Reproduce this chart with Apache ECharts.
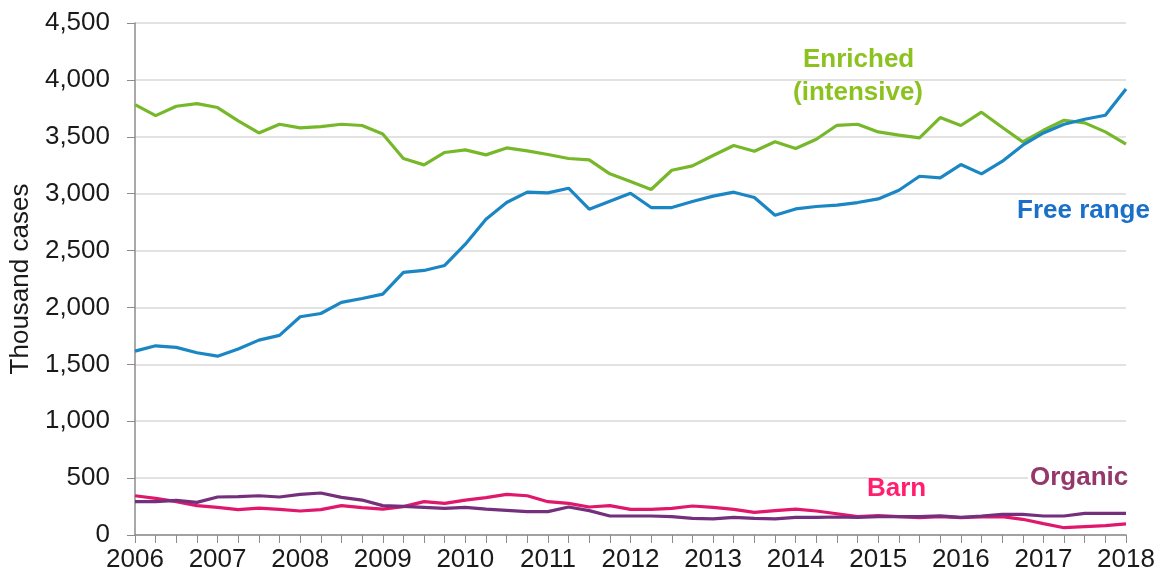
<!DOCTYPE html>
<html>
<head>
<meta charset="utf-8">
<script src="https://cdn.jsdelivr.net/npm/echarts@6/dist/echarts.min.js"></script>
<style>
  html, body { margin: 0; padding: 0; background: #fff; }
  #main { width: 1159px; height: 578px; }
</style>
</head>
<body>
<div id="main"></div>
<script>
// quarterly points, 2006 Q1 .. 2018 Q1
var years = ['2006','2007','2008','2009','2010','2011','2012','2013','2014','2015','2016','2017','2018'];
var quarters = [];
for (var i = 0; i < 49; i++) {
  quarters.push(i % 4 === 0 ? years[i / 4] : years[Math.floor(i / 4)] + ' Q' + (i % 4 + 1));
}

var enriched = [3783,3686,3768,3792,3757,3639,3534,3610,3578,3590,3610,3599,3524,
  3309,3253,3362,3385,3341,3402,3376,3344,3309,3297,3174,3107,3037,3206,3244,3335,
  3423,3373,3456,3397,3478,3601,3610,3543,3514,3490,3669,3599,3716,3584,3455,3557,
  3645,3622,3543,3435];
var freeRange = [1616,1663,1649,1602,1572,1634,1713,1754,1918,1947,2044,2079,2117,
  2308,2325,2369,2556,2776,2922,3013,3007,3048,2864,2934,3004,2878,2878,2931,2978,
  3013,2966,2811,2866,2887,2899,2922,2954,3030,3153,3139,3256,3174,3283,3426,3534,
  3610,3654,3689,3920];
var barn = [345,322,293,258,243,223,237,225,211,223,258,240,228,249,293,278,307,328,
  357,345,293,278,246,258,225,225,234,255,243,225,199,214,228,211,187,161,170,161,
  152,162,152,158,161,138,100,64,73,82,97];
var organic = [293,293,304,287,334,337,345,334,357,369,331,307,258,252,243,234,243,
  228,217,205,205,246,214,167,167,167,161,146,141,155,146,141,155,155,158,155,161,
  161,161,168,155,167,182,182,167,167,190,190,190];

var yTicks = [0, 500, 1000, 1500, 2000, 2500, 3000, 3500, 4000, 4500];

var Chart = echarts.init(document.getElementById('main'), null, { renderer: 'canvas' });

var lineOf = function (name, data, color) {
  return {
    name: name,
    type: 'line',
    data: data,
    symbol: 'none',
    smooth: false,
    lineStyle: { color: color, width: 3.2 },
    itemStyle: { color: color }
  };
};

var FONT = 'Liberation Sans, Arial';

var option = {
  animation: false,
  grid: { left: 135, right: 33, top: 23, bottom: 43, containLabel: false, outerBoundsMode: 'none' },
  xAxis: {
    type: 'category',
    boundaryGap: false,
    data: quarters,
    axisLine: { lineStyle: { color: '#8c8c8c', width: 1.5 } },
    axisTick: { show: true, interval: 0, length: 8, lineStyle: { color: '#8c8c8c' } },
    axisLabel: {
      interval: 3,
      color: '#1a1a1a',
      fontFamily: FONT,
      fontSize: 26,
      margin: 12,
      formatter: function (v) { return v.length === 4 ? v : ''; }
    },
    splitLine: { show: false }
  },
  yAxis: {
    type: 'value',
    min: yTicks[0],
    max: yTicks[yTicks.length - 1],
    interval: 500,
    name: 'Thousand cases',
    nameLocation: 'middle',
    nameGap: 97,
    nameRotate: 90,
    nameTextStyle: { color: '#1a1a1a', fontFamily: FONT, fontSize: 26 },
    axisLine: { show: true, lineStyle: { color: '#8c8c8c', width: 1.5 } },
    axisTick: { show: true, length: 8, lineStyle: { color: '#8c8c8c' } },
    axisLabel: {
      color: '#1a1a1a',
      fontFamily: FONT,
      fontSize: 26,
      margin: 25,
      formatter: function (v) { return v.toLocaleString('en-US'); }
    },
    splitLine: { lineStyle: { color: '#d9d9d9', width: 1.5 } }
  },
  graphic: [
    { type: 'text', z: 100, left: 803, top: 47, style: { text: 'Enriched', fill: '#8cc21f', font: 'bold 26px ' + FONT } },
    { type: 'text', z: 100, left: 793, top: 80, style: { text: '(intensive)', fill: '#8cc21f', font: 'bold 26px ' + FONT } },
    { type: 'text', z: 100, left: 1017, top: 198, style: { text: 'Free range', fill: '#1a6fc9', font: 'bold 26px ' + FONT } },
    { type: 'text', z: 100, left: 867, top: 476, style: { text: 'Barn', fill: '#ff1f6e', font: 'bold 26px ' + FONT } },
    { type: 'text', z: 100, left: 1028, top: 465, style: { text: 'Organic', fill: '#94386c', font: 'bold 26px ' + FONT, backgroundColor: '#fff', padding: [0, 2] } }
  ],
  series: [
    lineOf('Enriched (intensive)', enriched, '#77b82a'),
    lineOf('Free range', freeRange, '#1b86c4'),
    lineOf('Barn', barn, '#e0186c'),
    lineOf('Organic', organic, '#74307c')
  ]
};
Chart.setOption(option);
</script>
</body>
</html>
